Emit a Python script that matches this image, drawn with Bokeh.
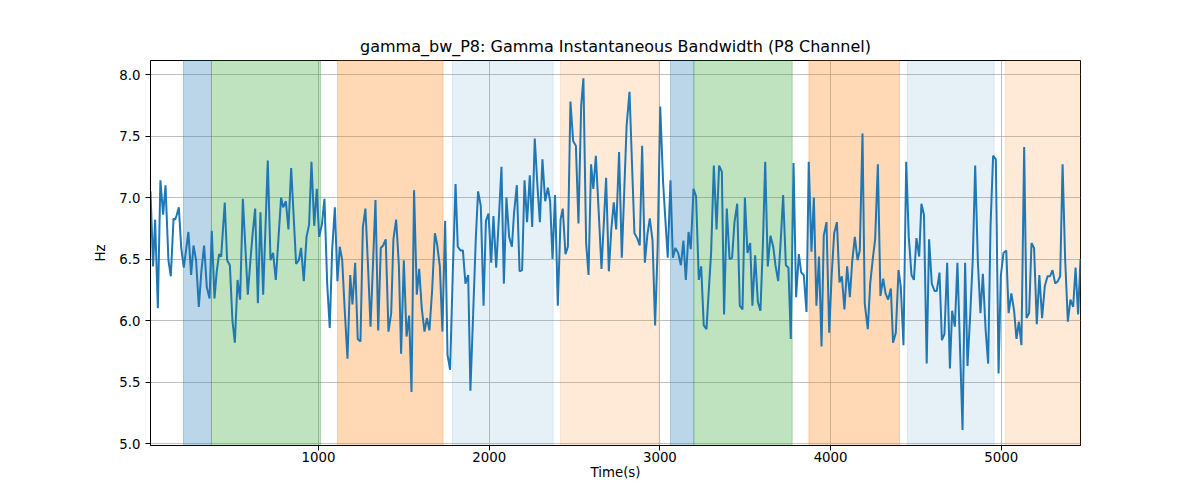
from bokeh.plotting import figure
from bokeh.models import Range1d, BoxAnnotation, FixedTicker, NumeralTickFormatter
from bokeh.embed import file_html
from bokeh.resources import INLINE

# ---- data ----
times = [16, 31, 43, 59, 74, 90, 104, 121, 135, 151, 160, 168, 182, 196, 211, 238, 254, 268, 283, 299,
         314, 330, 346, 362, 375, 391, 404, 418, 430, 451, 465, 481, 496, 510, 526, 541, 557, 586, 602, 614,
         629, 645, 660, 676, 703, 719, 734, 750, 781, 793, 809, 824, 840, 869, 885, 898, 914, 930, 945, 959,
         975, 990, 1004, 1020, 1035, 1051, 1066, 1080, 1096, 1111, 1125, 1139, 1154, 1170, 1186, 1199, 1215,
         1230, 1246, 1260, 1275, 1290, 1305, 1334, 1350, 1365, 1379, 1394, 1410, 1426, 1439, 1455, 1471,
         1484, 1500, 1516, 1531, 1545, 1560, 1576, 1590, 1605, 1621, 1635, 1650, 1666, 1682, 1695, 1711,
         1726, 1742, 1756, 1771, 1787, 1803, 1816, 1832, 1846, 1861, 1877, 1890, 1906, 1922, 1935, 1951,
         1967, 1981, 1996, 2012, 2025, 2041, 2056, 2072, 2086, 2101, 2117, 2133, 2146, 2162, 2178, 2193,
         2207, 2222, 2238, 2252, 2267, 2283, 2297, 2312, 2328, 2344, 2357, 2371, 2386, 2402, 2418, 2431,
         2447, 2461, 2476, 2492, 2508, 2523, 2539, 2552, 2568, 2582, 2597, 2610, 2625, 2641, 2658, 2685,
         2701, 2716, 2730, 2744, 2761, 2777, 2805, 2822, 2851, 2867, 2882, 2896, 2912, 2927, 2941, 2957,
         2972, 2987, 3002, 3019, 3033, 3046, 3062, 3076, 3091, 3107, 3123, 3138, 3152, 3168, 3181, 3197,
         3212, 3228, 3242, 3257, 3273, 3285, 3300, 3316, 3332, 3347, 3363, 3376, 3392, 3408, 3423, 3437,
         3453, 3468, 3484, 3498, 3513, 3529, 3542, 3558, 3574, 3589, 3603, 3617, 3632, 3648, 3664, 3677,
         3693, 3708, 3722, 3738, 3753, 3767, 3783, 3798, 3814, 3828, 3843, 3859, 3872, 3888, 3902, 3917,
         3932, 3947, 3960, 3976, 3992, 4006, 4021, 4037, 4052, 4066, 4081, 4097, 4113, 4126, 4142, 4158,
         4171, 4187, 4200, 4218, 4232, 4247, 4261, 4277, 4292, 4308, 4322, 4337, 4353, 4366, 4382, 4398,
         4411, 4427, 4443, 4458, 4474, 4488, 4503, 4519, 4532, 4547, 4563, 4577, 4593, 4609, 4622, 4638,
         4652, 4667, 4683, 4699, 4712, 4728, 4743, 4773, 4788, 4802, 4818, 4833, 4847, 4863, 4878, 4892,
         4908, 4923, 4937, 4952, 4968, 4984, 4997, 5013, 5029, 5043, 5059, 5075, 5089, 5103, 5118, 5134,
         5148, 5163, 5177, 5192, 5208, 5223, 5239, 5255, 5271, 5286, 5300, 5316, 5331, 5345, 5359, 5374,
         5390, 5405, 5421, 5435, 5450, 5464]
gamma_bw = [7.05, 6.44, 6.82, 6.10, 7.14, 6.86, 7.10, 6.49, 6.36, 6.83, 6.82, 6.85, 6.92, 6.59, 6.43, 6.72, 6.37, 6.61, 6.49, 6.11,
            6.40, 6.61, 6.27, 6.18, 6.73, 6.18, 6.40, 6.54, 6.52, 6.96, 6.49, 6.45, 6.00, 5.82, 6.33, 6.17, 6.99, 6.21, 6.50, 6.70,
            6.91, 6.14, 6.88, 6.21, 7.30, 6.49, 6.55, 6.33, 7.00, 6.92, 6.97, 6.74, 7.24, 6.46, 6.49, 6.59, 6.32, 6.68, 6.78, 7.29,
            6.77, 7.07, 6.68, 6.78, 6.99, 6.30, 5.94, 6.57, 6.92, 6.32, 6.60, 6.49, 6.08, 5.69, 6.37, 6.13, 6.47,
            5.85, 5.83, 6.76, 6.91, 6.45, 5.95, 6.98, 5.92, 6.59, 6.61, 6.66, 5.91, 6.06, 6.66, 6.82, 6.45,
            5.73, 6.49, 5.87, 6.04, 5.42, 7.06, 6.21, 6.42, 6.10, 5.91, 6.02, 5.92, 6.25, 6.71, 6.62, 6.44,
            5.91, 6.81, 5.72, 5.60, 6.40, 7.11, 6.60, 6.57, 6.57, 6.30, 6.37, 5.43, 6.05, 6.68, 7.05, 6.93,
            6.12, 6.81, 6.87, 6.47, 6.85, 6.43, 6.81, 7.25, 6.30, 7.00, 6.68, 6.60, 6.88, 7.10, 6.40, 6.41,
            7.14, 6.80, 7.18, 6.76, 7.48, 7.09, 6.80, 7.31, 6.97, 7.08, 6.97, 6.50, 7.02, 6.12, 6.82, 6.91,
            6.54, 6.60, 7.78, 7.46, 7.42, 6.79, 7.75, 7.97, 6.63, 6.37, 7.27, 7.07, 7.34, 6.90, 6.42, 7.16,
            6.40, 6.75, 6.96, 6.74, 7.37, 6.51, 7.58, 7.86, 6.71, 6.67, 6.61, 7.42, 6.47, 6.70, 6.83, 6.65,
            5.96, 6.60, 7.74, 7.12, 6.80, 6.51, 7.14, 6.51, 6.59, 6.55, 6.45, 6.65, 6.33, 6.72, 6.58, 7.07,
            7.01, 6.33, 6.44, 5.96, 5.93, 6.21, 6.55, 7.26, 6.74, 7.26, 7.21, 6.05, 6.91, 6.50, 6.51, 6.80,
            6.95, 6.12, 6.09, 7.00, 6.55, 6.63, 6.12, 6.53, 6.15, 6.08, 6.60, 7.29, 6.44, 6.69, 6.60, 6.45,
            6.32, 6.65, 7.02, 6.45, 6.43, 5.85, 7.28, 6.19, 6.54, 6.39, 6.37, 6.07, 7.29, 6.56, 7.00, 6.12,
            6.52, 5.79, 6.69, 6.80, 5.90, 6.36, 6.71, 6.80, 6.31, 6.36, 6.09, 6.44, 6.19, 6.47, 6.68, 6.49,
            6.57, 7.52, 6.14, 5.93, 6.30, 6.50, 6.66, 7.27, 6.20, 6.34, 6.22, 6.17, 6.26, 5.82, 5.90, 6.41,
            6.28, 5.80, 7.29, 6.68, 6.37, 6.33, 6.67, 6.52, 6.95, 6.86, 5.65, 6.66, 6.30, 6.24, 6.24, 6.39,
            5.84, 5.89, 6.47, 5.61, 6.08, 5.95, 6.47, 5.11, 6.47, 5.63, 6.05, 6.50, 7.26, 6.47, 6.06, 6.38,
            5.93, 5.65, 6.77, 7.34, 7.31, 5.57, 6.36, 6.55, 6.57, 6.06, 6.22, 6.08, 5.85, 5.99, 5.80, 7.41,
            6.02, 6.06, 6.63, 6.59, 5.97, 6.37, 6.02, 6.28, 6.36, 6.36, 6.41, 6.30, 6.32, 6.36, 7.27, 6.50,
            5.99, 6.17, 6.11, 6.43, 6.05, 6.50]

span_starts = [209, 373, 1111, 1785, 2418, 3062, 3199, 3873, 4451, 5025]
span_ends = [373, 1012, 1730, 2375, 2995, 3199, 3775, 4404, 4958, 5464]
span_kinds = ["blue", "green", "orange", "lightblue", "lightorange",
              "blue", "green", "orange", "lightblue", "lightorange"]

x_ticks = [1000, 2000, 3000, 4000, 5000]
y_ticks = [5.0, 5.5, 6.0, 6.5, 7.0, 7.5, 8.0]

kind_style = {
    "blue": ("#1f77b4", 0.30),
    "green": ("#2ca02c", 0.30),
    "orange": ("#ff7f0e", 0.30),
    "lightblue": ("#1f77b4", 0.11),
    "lightorange": ("#ff7f0e", 0.16),
}

FONT = "DejaVu Sans"

p = figure(width=1184, height=484, output_backend="svg", toolbar_location=None,
           x_range=Range1d(16, 5464), y_range=Range1d(4.984, 8.114),
           title="gamma_bw_P8: Gamma Instantaneous Bandwidth (P8 Channel)",
           min_border_left=150, min_border_right=104, min_border_top=60, min_border_bottom=39)

p.title.align = "center"
p.title.text_font = FONT
p.title.text_font_size = "12pt"
p.title.text_font_style = "normal"
p.title.text_color = "black"

for s, e, k in zip(span_starts, span_ends, span_kinds):
    c, a = kind_style[k]
    p.add_layout(BoxAnnotation(left=s, right=e, fill_color=c, fill_alpha=a,
                               line_color=c, line_alpha=a, line_width=1, level="underlay"))

p.line(times, gamma_bw, line_color="#1f77b4", line_width=2)

p.xaxis.ticker = FixedTicker(ticks=x_ticks)
p.yaxis.ticker = FixedTicker(ticks=y_ticks)
p.yaxis.formatter = NumeralTickFormatter(format="0.0")
p.xaxis.axis_label = "Time(s)"
p.yaxis.axis_label = "Hz"
for ax in (p.xaxis, p.yaxis):
    ax.axis_label_text_font = FONT
    ax.axis_label_text_font_size = "10pt"
    ax.axis_label_text_font_style = "normal"
    ax.axis_label_text_color = "black"
    ax.major_label_text_font = FONT
    ax.major_label_text_font_size = "10pt"
    ax.major_label_text_color = "black"
    ax.major_tick_in = 0
    ax.major_tick_out = 5
    ax.minor_tick_line_color = None
    ax.axis_line_color = "black"
    ax.major_tick_line_color = "black"
p.xaxis.major_label_standoff = 1
p.xaxis.axis_label_standoff = 0
p.yaxis.axis_label_standoff = 8

p.xgrid.grid_line_color = "#b0b0b0"
p.ygrid.grid_line_color = "#b0b0b0"
p.xgrid.grid_line_width = 0.8
p.ygrid.grid_line_width = 0.8
p.outline_line_color = "black"
p.outline_line_alpha = 1
p.outline_line_width = 1
p.background_fill_color = "white"
p.border_fill_color = "white"

open("out.html", "w").write(file_html(p, INLINE))
